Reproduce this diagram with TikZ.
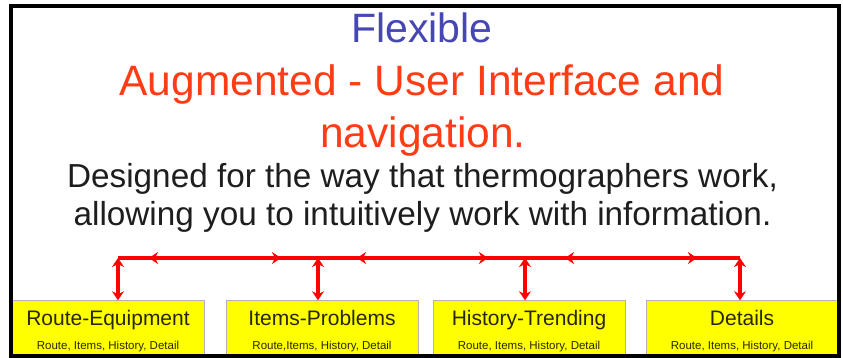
\documentclass[tikz,border=0pt]{standalone}
\usepackage{fontspec}
\setmainfont{Liberation Sans}
\usetikzlibrary{arrows.meta}
\definecolor{flexblue}{RGB}{70,70,180}
\definecolor{titlered}{RGB}{255,60,20}
\definecolor{bodygray}{RGB}{30,30,30}
\definecolor{panelyellow}{RGB}{255,255,0}
\definecolor{boxtext}{RGB}{40,40,0}
\tikzset{
  panel/.style={draw=gray!60, fill=panelyellow, minimum width=192pt, minimum height=54pt, inner sep=0pt},
  headline/.style={anchor=base, font=\fontsize{21}{25}\selectfont, text=boxtext},
  subline/.style={anchor=base, font=\fontsize{11.5}{14}\selectfont, text=boxtext},
  wire/.style={red, line width=3.2pt},
  link/.style={wire, {Stealth[length=9pt,width=12pt]}-{Stealth[length=9pt,width=12pt]}},
}
\begin{document}
\begin{tikzpicture}[x=1pt,y=1pt]
\useasboundingbox (0,0) rectangle (843,358);
\fill[white] (0,0) rectangle (843,358);
% heading
\node[anchor=base, text=flexblue, font=\fontsize{41}{49}\selectfont] (flex) at (422,315) {Flexible};
\node[anchor=base, text=titlered, font=\fontsize{42.5}{50}\selectfont] (aug) at (422,262) {Augmented - User Interface and};
\node[anchor=base, text=titlered, font=\fontsize{42.5}{50}\selectfont] (nav) at (423,210) {navigation.};
\node[anchor=base, text=bodygray, font=\fontsize{33.3}{40}\selectfont] (design) at (422.5,170) {Designed for the way that thermographers work,};
\node[anchor=base, text=bodygray, font=\fontsize{33.3}{40}\selectfont] (allow) at (422.5,132) {allowing you to intuitively work with information.};
% boxes
\node[panel] (route) at (108,30.5) {};
\node[panel] (items) at (322,30.5) {};
\node[panel] (hist) at (529,30.5) {};
\node[panel, minimum width=193pt] (detail) at (742.5,30.5) {};
\node[headline] (routehd) at (108,32) {Route-Equipment};
\node[headline] (itemshd) at (322,32) {Items-Problems};
\node[headline] (histhd) at (529,32) {History-Trending};
\node[headline] (detailhd) at (742,32) {Details};
\node[subline] (routesub) at (108,8) {Route, Items, History, Detail};
\node[subline] (itemssub) at (322,8) {Route,Items, History, Detail};
\node[subline] (histsub) at (529,8) {Route, Items, History, Detail};
\node[subline] (detailsub) at (742,8) {Route, Items, History, Detail};
% links
\coordinate (t1) at (118,100);
\coordinate (t2) at (318,100);
\coordinate (t3) at (525,100);
\coordinate (t4) at (740,100);
\draw[wire] (t1) -- (t4);
\draw[link] ([xshift=31pt]t1) -- ([xshift=-37pt]t2);
\draw[link] ([xshift=39pt]t2) -- ([xshift=-37pt]t3);
\draw[link] ([xshift=40pt]t3) -- ([xshift=-43pt]t4);
\draw[link] (t1) -- (t1 |- route.north);
\draw[link] (t2) -- (t2 |- items.north);
\draw[link] (t3) -- (t3 |- hist.north);
\draw[link] (t4) -- (t4 |- detail.north);
% frame
\draw[line width=4pt] (11,2) rectangle (839,352);
\end{tikzpicture}
\end{document}
